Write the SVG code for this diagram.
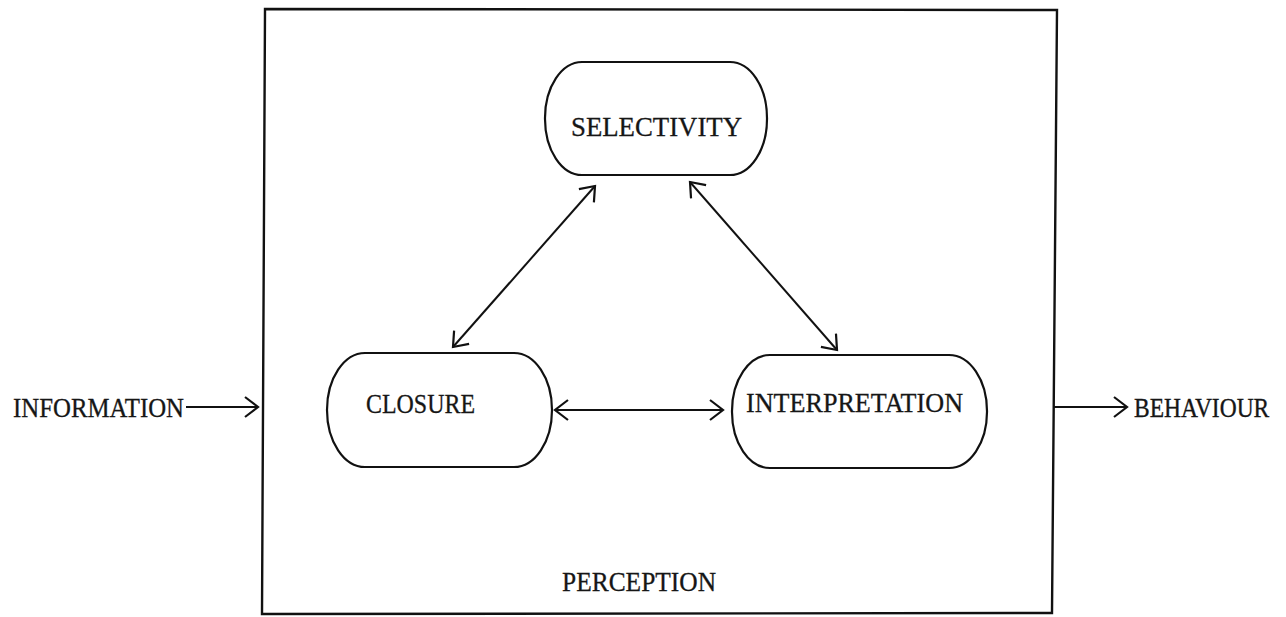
<svg xmlns="http://www.w3.org/2000/svg" width="1286" height="617" viewBox="0 0 1286 617">
  <style>
    .node { fill: #ffffff; stroke: #111111; stroke-width: 2.2; }
    .frame { fill: none; stroke: #111111; stroke-width: 2.4; }
    .link { fill: none; stroke: #111111; stroke-width: 2; }
    .label { font-family: "Liberation Serif", "DejaVu Serif", serif; font-size: 27.5px; fill: #161616; stroke: #161616; stroke-width: 0.3; }
    .label.narrow { font-size: 23.5px; }
  </style>
  <defs>
    <!-- open typewriter-style arrowhead -->
    <marker id="arrow" viewBox="0 0 22 22" refX="19" refY="11" markerWidth="22" markerHeight="22" markerUnits="userSpaceOnUse" orient="auto-start-reverse">
      <path d="M6,1 L19,11 L6,21" fill="none" stroke="#111111" stroke-width="2.2" stroke-linejoin="miter"/>
    </marker>
  </defs>

  <rect width="1286" height="617" fill="#ffffff"/>

  <!-- outer PERCEPTION frame -->
  <g id="perception">
    <path class="frame" d="M265,9 L1057,10 L1052,613 L262,614 Z"/>
    <text class="label" x="562" y="591" textLength="154" lengthAdjust="spacingAndGlyphs">PERCEPTION</text>
  </g>

  <g id="selectivity">
    <rect class="node" x="545" y="62" width="222" height="113" rx="37" ry="56"/>
    <text class="label" x="571" y="136" textLength="171" lengthAdjust="spacingAndGlyphs">SELECTIVITY</text>
  </g>

  <g id="closure">
    <rect class="node" x="327" y="353" width="225" height="114" rx="38" ry="57"/>
    <text class="label" x="366" y="413" textLength="109" lengthAdjust="spacingAndGlyphs">CLOSURE</text>
  </g>

  <g id="interpretation">
    <rect class="node" x="732" y="355" width="255" height="113" rx="38" ry="56"/>
    <text class="label" x="746" y="412" textLength="217" lengthAdjust="spacingAndGlyphs">INTERPRETATION</text>
  </g>

  <g id="information">
    <text class="label" x="13" y="417" textLength="171" lengthAdjust="spacingAndGlyphs">INFORMATION</text>
  </g>

  <!-- output label near the right edge: smaller size, stretched vertically to keep cap height -->
  <g id="behaviour" transform="translate(1134,417) scale(1,1.17)">
    <text class="label narrow" x="0" y="0">BEHAVIOUR</text>
  </g>

  <!-- connectors -->
  <g id="connectors">
    <line class="link" x1="186" y1="407" x2="258" y2="407" marker-end="url(#arrow)"/>
    <line class="link" x1="1053" y1="407" x2="1127" y2="407" marker-end="url(#arrow)"/>
    <line class="link" x1="555" y1="410" x2="723" y2="410" marker-start="url(#arrow)" marker-end="url(#arrow)"/>
    <line class="link" x1="453" y1="347" x2="595" y2="186" marker-start="url(#arrow)" marker-end="url(#arrow)"/>
    <line class="link" x1="690" y1="182" x2="837" y2="350" marker-start="url(#arrow)" marker-end="url(#arrow)"/>
  </g>
</svg>
